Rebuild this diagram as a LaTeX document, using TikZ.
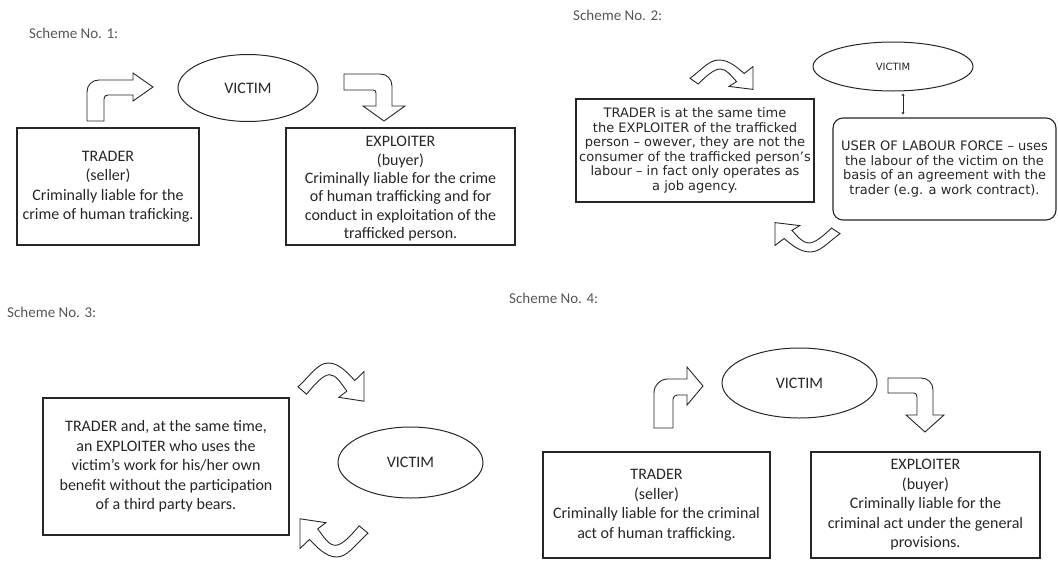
\documentclass[tikz,border=0pt]{standalone}
\usepackage{fontspec}
\setmainfont{Carlito}
\newfontfamily\dvsans{DejaVu Sans}
\usetikzlibrary{shapes.geometric,arrows.meta}
\definecolor{txt}{HTML}{262626}
\definecolor{ln}{HTML}{262626}
\definecolor{hd}{HTML}{555555}
\newcommand{\lowertext}[2]{\raisebox{-#1}[\height][\depth]{\begin{tabular}{@{}c@{}}#2\end{tabular}}}
\begin{document}
\begin{tikzpicture}[x=1pt,y=-1pt,
  box/.style={draw=ln, line width=1.1pt, align=center, inner sep=0pt, text=txt,
    font=\fontsize{16}{19.5}\selectfont},
  boxtwo/.style={draw=ln, line width=1.1pt, align=center, inner sep=0pt, text=txt,
    font=\dvsans\fontsize{13}{14.5}\selectfont},
  vic/.style={ellipse, draw=ln, line width=1pt, inner sep=0pt, text=txt,
    font=\fontsize{16}{19}\selectfont},
  victwo/.style={ellipse, draw=ln, line width=1pt, inner sep=0pt, text=txt,
    font=\dvsans\fontsize{10}{12}\selectfont},
  barrow/.style={draw=ln, line width=0.9pt, fill=white, line join=miter},
  heading/.style={text=hd, anchor=west, inner sep=0pt, font=\fontsize{15}{18}\selectfont}]
\useasboundingbox (0,0) rectangle (1058,560);

% ---------------- Scheme 1 ----------------
\node[heading] (h1) at (29,33) {Scheme No. 1:};
\node[vic, minimum width=140, minimum height=67] (v1) at (248,88) {VICTIM};
\node[box, minimum width=182, minimum height=117] (t1) at (108,186.5)
  {TRADER\\(seller)\\Criminally liable for the\\crime of human traficking.};
\node[box, minimum width=229, minimum height=117, font=\fontsize{16}{18.4}\selectfont] (e1) at (400.5,186.5)
  {\lowertext{2.5pt}{EXPLOITER\\(buyer)\\Criminally liable for the crime\\of human trafficking and for\\conduct in exploitation of the\\trafficked person.}};
% bent arrow up-right
\draw[barrow] (87,121) -- (87,92) .. controls (87,85) and (92,80) .. (99,80) -- (133,80)
  -- (133,73) -- (153,87) -- (133,101) -- (133,95) -- (108,95)
  .. controls (105.5,95) and (104,96.5) .. (104,99) -- (104,121) -- cycle;
% bent arrow right-down
\draw[barrow] (344,74) -- (380,74) .. controls (387,74) and (392,79) .. (392,86)
  -- (392,106) -- (405,106) -- (384,121) -- (363,106) -- (376,106) -- (376,93)
  .. controls (376,91) and (375,90) .. (373,90) -- (344,90) -- cycle;

% ---------------- Scheme 2 ----------------
\node[heading] (h2) at (573,15) {Scheme No. 2:};
\node[victwo, minimum width=160, minimum height=49] (v2) at (893,66.5) {VICTIM};
\node[boxtwo, minimum width=238, minimum height=103] (t2) at (695,150.5)
  {TRADER is at the same time\\the EXPLOITER of the trafficked\\person – owever, they are not the\\consumer of the trafficked person’s\\labour – in fact only operates as\\a job agency.};
\node[boxtwo, rounded corners=10pt, minimum width=223, minimum height=102] (u2) at (944.5,169)
  {USER OF LABOUR FORCE – uses\\the labour of the victim on the\\basis of an agreement with the\\trader (e.g. a work contract).};
\coordinate (a2) at ([xshift=10pt,yshift=-2pt]v2.south);
\coordinate (b2) at (a2 |- u2.north);
\draw[draw=ln, line width=0.8pt, {Stealth[length=2.5pt,width=3pt]}-{Stealth[length=2.5pt,width=3pt]}]
  (a2) -- ([yshift=3pt]b2);
\begin{scope}[shift={(690,60)}, xscale=63, yscale=30]
  \draw[barrow] (0,0.61) .. controls (0.2,0.3) and (0.3,0) .. (0.46,0)
    .. controls (0.62,0) and (0.75,0.25) .. (0.86,0.45) -- (1,0.22) -- (1,0.98)
    -- (0.62,0.88) -- (0.74,0.72) .. controls (0.65,0.52) and (0.58,0.3) .. (0.48,0.3)
    .. controls (0.38,0.3) and (0.25,0.55) .. (0.13,0.8) -- cycle;
\end{scope}
\begin{scope}[shift={(840,252)}, xscale=-65, yscale=-30]
  \draw[barrow] (0,0.61) .. controls (0.2,0.3) and (0.3,0) .. (0.46,0)
    .. controls (0.62,0) and (0.75,0.25) .. (0.86,0.45) -- (1,0.22) -- (1,0.98)
    -- (0.62,0.88) -- (0.74,0.72) .. controls (0.65,0.52) and (0.58,0.3) .. (0.48,0.3)
    .. controls (0.38,0.3) and (0.25,0.55) .. (0.13,0.8) -- cycle;
\end{scope}

% ---------------- Scheme 3 ----------------
\node[heading] (h3) at (7,312) {Scheme No. 3:};
\node[box, minimum width=246, minimum height=137] (t3) at (166,466.5)
  {TRADER and, at the same time,\\an EXPLOITER who uses the\\victim’s work for his/her own\\benefit without the participation\\of a third party bears.};
\node[vic, minimum width=145, minimum height=71] (v3) at (410.5,462.5) {VICTIM};
\begin{scope}[shift={(298,363)}, xscale=66, yscale=39]
  \draw[barrow] (0,0.61) .. controls (0.2,0.3) and (0.3,0) .. (0.46,0)
    .. controls (0.62,0) and (0.75,0.25) .. (0.86,0.45) -- (1,0.22) -- (1,0.98)
    -- (0.62,0.88) -- (0.74,0.72) .. controls (0.65,0.52) and (0.58,0.3) .. (0.48,0.3)
    .. controls (0.38,0.3) and (0.25,0.55) .. (0.13,0.8) -- cycle;
\end{scope}
\begin{scope}[shift={(368,557)}, xscale=-68, yscale=-39]
  \draw[barrow] (0,0.61) .. controls (0.2,0.3) and (0.3,0) .. (0.46,0)
    .. controls (0.62,0) and (0.75,0.25) .. (0.86,0.45) -- (1,0.22) -- (1,0.98)
    -- (0.62,0.88) -- (0.74,0.72) .. controls (0.65,0.52) and (0.58,0.3) .. (0.48,0.3)
    .. controls (0.38,0.3) and (0.25,0.55) .. (0.13,0.8) -- cycle;
\end{scope}

% ---------------- Scheme 4 ----------------
\node[heading] (h4) at (509,298) {Scheme No. 4:};
\node[vic, minimum width=155, minimum height=70] (v4) at (799.5,383) {VICTIM};
\node[box, minimum width=227, minimum height=106] (t4) at (656.5,505)
  {TRADER\\(seller)\\Criminally liable for the criminal\\act of human trafficking.};
\node[box, minimum width=229, minimum height=106] (e4) at (925.5,505)
  {EXPLOITER\\(buyer)\\Criminally liable for the\\criminal act under the general\\provisions.};
% bent arrow up-right
\draw[barrow] (654,428) -- (654,393) .. controls (654,385) and (660,379) .. (668,379) -- (687,379)
  -- (687,367) -- (703,386) -- (687,405) -- (687,395) -- (677,395)
  .. controls (675,395) and (673,397) .. (673,399) -- (673,428) -- cycle;
% bent arrow right-down
\draw[barrow] (888,378) -- (921,378) .. controls (928,378) and (933,383) .. (933,390)
  -- (933,415) -- (944,415) -- (925,432) -- (906,415) -- (917,415) -- (917,397)
  .. controls (917,395) and (916,393) .. (914,393) -- (888,393) -- cycle;
\end{tikzpicture}
\end{document}
